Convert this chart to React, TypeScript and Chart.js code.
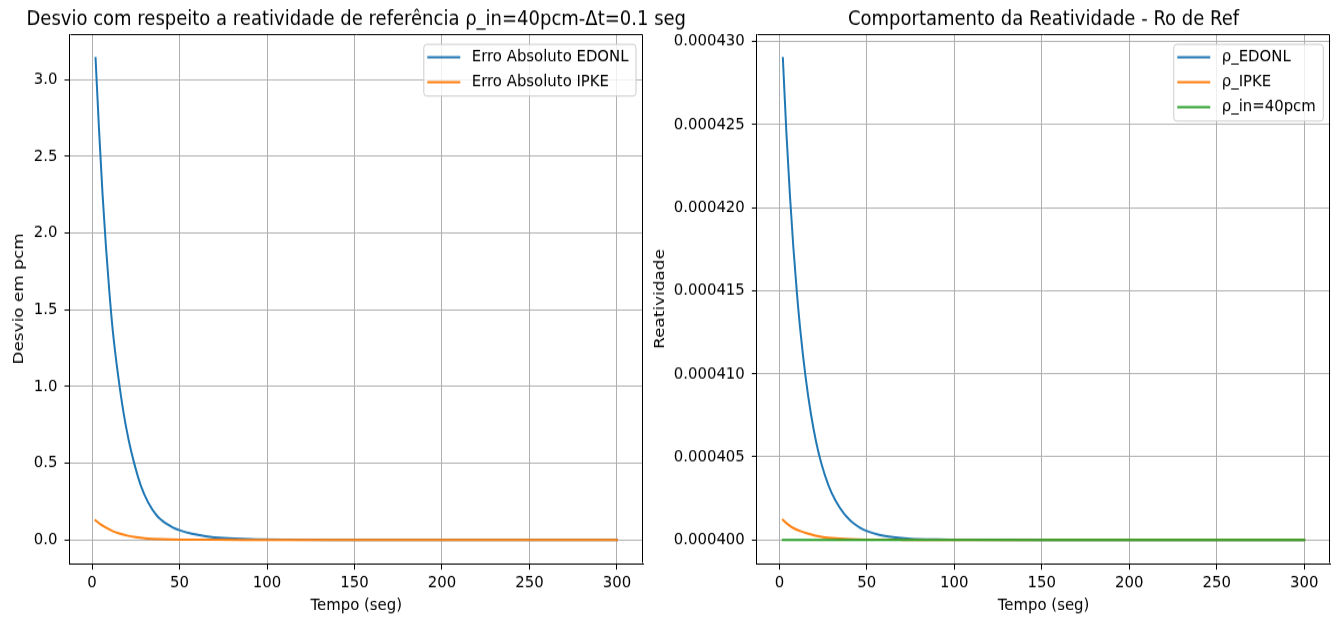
import React, { useEffect, useRef } from 'react';
import { Chart, registerables } from 'chart.js';

Chart.register(...registerables);

const FONT = '"DejaVu Sans", sans-serif';

// Absolute error of each method against the 40 pcm reference (pcm)
const errTimeEdonl = [2, 4, 6, 8, 10, 12, 15, 18, 21, 24, 28, 32, 37, 40, 43, 46, 50, 57, 65, 75, 90, 110, 150, 200, 250, 300];
const errEdonl = [3.14, 2.67, 2.25, 1.9, 1.6, 1.345, 1.062, 0.828, 0.646, 0.503, 0.349, 0.245, 0.158, 0.126, 0.101, 0.082, 0.063, 0.04, 0.024, 0.012, 0.0042, 0.001, 0.0001, 0, 0, 0];
const errTimeIpke = [2, 5, 8, 12, 16, 20, 25, 30, 40, 50, 70, 100, 150, 200, 250, 300];
const errIpke = [0.127, 0.1, 0.079, 0.056, 0.04, 0.028, 0.017, 0.01, 0.004, 0.0015, 0.0003, 0, 0, 0, 0, 0];

// Reactivity computed by each method, plus the inserted reactivity
const rhoTimeEdonl = [2, 4, 6, 8, 10, 12, 15, 18, 21, 24, 28, 32, 37, 40, 43, 46, 50, 57, 65, 75, 90, 110, 150, 200, 250, 300];
const rhoEdonl = [0.000429, 0.00042455, 0.0004208, 0.0004176, 0.0004149, 0.0004126, 0.0004098, 0.0004076, 0.0004059, 0.0004046, 0.0004033, 0.00040238, 0.00040157, 0.00040123, 0.00040095, 0.00040074, 0.00040053, 0.0004003, 0.00040016, 0.000400067, 0.00040002, 0.000400004, 0.0004, 0.0004, 0.0004, 0.0004];
const rhoTimeIpke = [2, 5, 8, 12, 16, 20, 25, 30, 40, 50, 70, 100, 150, 200, 250, 300];
const rhoIpke = [0.0004012, 0.00040092, 0.00040071, 0.00040053, 0.00040038, 0.00040027, 0.00040017, 0.000400105, 0.00040004, 0.000400015, 0.000400002, 0.0004, 0.0004, 0.0004, 0.0004, 0.0004];
const rhoTimeIn = [2, 300];
const rhoIn = [0.0004, 0.0004];

// Tick values
const timeTicks = [0, 50, 100, 150, 200, 250, 300];
const errTicks = [0, 0.5, 1.0, 1.5, 2.0, 2.5, 3.0];
const rhoTicks = [0.0004, 0.000405, 0.00041, 0.000415, 0.00042, 0.000425, 0.00043];

const leftTitle = 'Desvio com respeito a reatividade de referência ρ_in=40pcm-Δt=0.1 seg';
const rightTitle = 'Comportamento da Reatividade - Ro de Ref';

const BLUE = '#1f77b4';
const ORANGE = '#ff7f0e';
const GREEN = '#2ca02c';

// The figure is drawn on a shorter bitmap and stretched vertically on screen
const RENDER_H = 546;
const SCREEN_H = 619;

const TICK_SIZE = 14.9;
const TITLE_SIZE = 18;

const PLOT_TOP = 30.0;
const PLOT_BOTTOM = 497.4;

const pts = (xs: number[], ys: number[]) => xs.map((x, i) => ({ x, y: ys[i] }));

// 5% margin around the data extent on each side
function padRange(values: number[]): [number, number] {
  const lo = Math.min(...values);
  const hi = Math.max(...values);
  const span = hi - lo;
  return [lo - 0.05 * span, hi + 0.05 * span];
}

// Closes the axes box with top and right spines
const framePlugin = {
  id: 'frame',
  afterDatasetsDraw(chart: any) {
    const { ctx, chartArea } = chart;
    const l = Math.round(chartArea.left) + 0.5;
    const r = Math.round(chartArea.right) - 0.5;
    const t = Math.round(chartArea.top) + 0.5;
    const b = Math.round(chartArea.bottom) - 0.5;
    ctx.save();
    ctx.strokeStyle = '#000';
    ctx.lineWidth = 1;
    ctx.beginPath();
    ctx.moveTo(l, t);
    ctx.lineTo(r, t);
    ctx.lineTo(r, b);
    ctx.stroke();
    ctx.restore();
  },
};

// Legend box in the upper-right corner of the axes
const legendPlugin = {
  id: 'cornerLegend',
  afterDraw(chart: any) {
    const { ctx, chartArea } = chart;
    const ds = chart.data.datasets;
    ctx.save();
    ctx.font = `${TICK_SIZE}px ${FONT}`;
    const textW = Math.max(...ds.map((d: any) => ctx.measureText(d.label).width));
    const rowH = 22.1;
    const w = 48 + textW + 7.5;
    const h = 23.5 + (ds.length - 1) * rowH;
    const x = chartArea.right - 7 - w;
    const y = chartArea.top + 9.1;
    ctx.beginPath();
    ctx.roundRect(x, y, w, h, 3);
    ctx.fillStyle = 'rgba(255,255,255,0.8)';
    ctx.fill();
    ctx.strokeStyle = '#cccccc';
    ctx.lineWidth = 1;
    ctx.stroke();
    ds.forEach((d: any, i: number) => {
      const cy = y + 11.3 + i * rowH;
      ctx.beginPath();
      ctx.strokeStyle = d.borderColor;
      ctx.lineWidth = 2;
      ctx.lineCap = 'butt';
      ctx.moveTo(x + 3.5, cy);
      ctx.lineTo(x + 36.5, cy);
      ctx.stroke();
      ctx.fillStyle = '#000';
      ctx.textBaseline = 'middle';
      ctx.textAlign = 'left';
      ctx.fillText(d.label, x + 48, cy);
    });
    ctx.restore();
  },
};

// Axes title centred over the plotting area
const titlePlugin = (text: string) => ({
  id: 'axesTitle',
  afterDraw(chart: any) {
    const { ctx, chartArea } = chart;
    ctx.save();
    ctx.font = `${TITLE_SIZE}px ${FONT}`;
    ctx.fillStyle = '#000';
    ctx.textAlign = 'center';
    ctx.textBaseline = 'alphabetic';
    ctx.fillText(text, (chartArea.left + chartArea.right) / 2, 22.4);
    ctx.restore();
  },
});

type PanelSpec = {
  title: string;
  yTitle: string;
  yTicks: number[];
  yFormat: (v: number) => string;
  yRange: [number, number];
  xRange: [number, number];
  yWidth: number;
  padRight: number;
  yTitlePad: number;
  datasets: any[];
};

function makeConfig(p: PanelSpec): any {
  const tickFont = { family: FONT, size: TICK_SIZE };
  const grid = { color: '#b0b0b0', lineWidth: 1, tickColor: '#000', tickLength: 5, drawTicks: true };
  const border = { display: true, color: '#000', width: 1 };
  return {
    type: 'line',
    data: { datasets: p.datasets },
    options: {
      responsive: false,
      animation: false,
      devicePixelRatio: 1,
      layout: { autoPadding: false, padding: { left: 0, right: p.padRight, top: PLOT_TOP, bottom: 0 } },
      plugins: {
        legend: { display: false },
        tooltip: { enabled: false },
        title: { display: false },
      },
      elements: {
        point: { radius: 0 },
        line: { borderWidth: 2, borderCapStyle: 'square', borderJoinStyle: 'round', cubicInterpolationMode: 'monotone' },
      },
      scales: {
        x: {
          type: 'linear',
          min: p.xRange[0],
          max: p.xRange[1],
          afterBuildTicks: (axis: any) => {
            axis.ticks = timeTicks.map((v) => ({ value: v }));
          },
          afterFit: (s: any) => {
            s.height = RENDER_H - PLOT_BOTTOM;
          },
          grid,
          border,
          ticks: { font: tickFont, color: '#000', padding: 3, autoSkip: false, maxRotation: 0, callback: (v: number) => String(v) },
          title: { display: true, text: 'Tempo (seg)', color: '#000', font: tickFont, padding: { top: 0, bottom: 2.7 } },
        },
        y: {
          type: 'linear',
          min: p.yRange[0],
          max: p.yRange[1],
          afterBuildTicks: (axis: any) => {
            axis.ticks = p.yTicks.map((v) => ({ value: v }));
          },
          afterFit: (s: any) => {
            s.width = p.yWidth;
          },
          grid,
          border,
          ticks: { font: tickFont, color: '#000', padding: 7, autoSkip: false, callback: (v: number) => p.yFormat(v) },
          title: { display: true, text: p.yTitle, color: '#000', font: tickFont, padding: { top: p.yTitlePad, bottom: 0 } },
        },
      },
    },
    plugins: [framePlugin, legendPlugin, titlePlugin(p.title)],
  };
}

const line = (label: string, xs: number[], ys: number[], color: string, order: number) => ({
  label,
  data: pts(xs, ys),
  borderColor: color,
  backgroundColor: color,
  fill: false,
  order,
});

const LEFT_W = 710;
const RIGHT_X = 640;
const RIGHT_W = 1341 - RIGHT_X;

export default function App() {
  const leftRef = useRef<HTMLCanvasElement>(null);
  const rightRef = useRef<HTMLCanvasElement>(null);

  useEffect(() => {
    const left = new Chart(
      leftRef.current!,
      makeConfig({
        title: leftTitle,
        yTitle: 'Desvio em pcm',
        yTicks: errTicks,
        yFormat: (v) => v.toFixed(1),
        yRange: padRange([...errEdonl, ...errIpke]),
        xRange: padRange([...errTimeEdonl, ...errTimeIpke]),
        yWidth: 69.5,
        padRight: LEFT_W - 643,
        yTitlePad: 10.1,
        datasets: [
          line('Erro Absoluto EDONL', errTimeEdonl, errEdonl, BLUE, 1),
          line('Erro Absoluto IPKE', errTimeIpke, errIpke, ORANGE, 0),
        ],
      })
    );
    const right = new Chart(
      rightRef.current!,
      makeConfig({
        title: rightTitle,
        yTitle: 'Reatividade',
        yTicks: rhoTicks,
        yFormat: (v) => v.toFixed(6),
        yRange: padRange([...rhoEdonl, ...rhoIpke, ...rhoIn]),
        xRange: padRange([...rhoTimeEdonl, ...rhoTimeIpke, ...rhoTimeIn]),
        yWidth: 756.8 - RIGHT_X,
        padRight: 1341 - 1330.3,
        yTitlePad: 11.1,
        datasets: [
          line('ρ_EDONL', rhoTimeEdonl, rhoEdonl, BLUE, 2),
          line('ρ_IPKE', rhoTimeIpke, rhoIpke, ORANGE, 1),
          line('ρ_in=40pcm', rhoTimeIn, rhoIn, GREEN, 0),
        ],
      })
    );
    return () => {
      left.destroy();
      right.destroy();
    };
  }, []);

  return (
    <div style={{ position: 'absolute', left: 0, top: 0, width: 1341, height: SCREEN_H, background: '#fff', overflow: 'hidden' }}>
      <canvas
        ref={leftRef}
        width={LEFT_W}
        height={RENDER_H}
        style={{ position: 'absolute', left: 0, top: 0, width: `${LEFT_W}px`, height: `${SCREEN_H}px` }}
      />
      <canvas
        ref={rightRef}
        width={RIGHT_W}
        height={RENDER_H}
        style={{ position: 'absolute', left: RIGHT_X, top: 0, width: `${RIGHT_W}px`, height: `${SCREEN_H}px` }}
      />
    </div>
  );
}
